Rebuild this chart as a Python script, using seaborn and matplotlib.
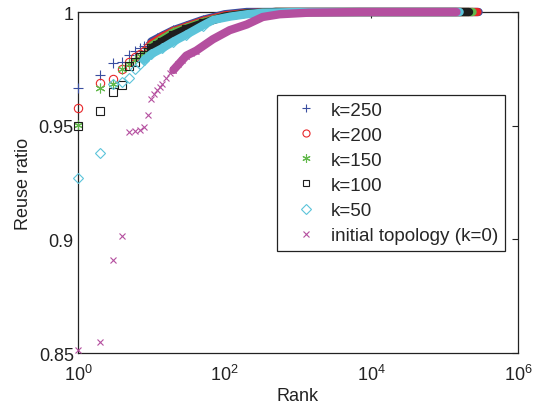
import matplotlib
matplotlib.use('Agg')
import matplotlib.pyplot as plt
import seaborn as sns
from matplotlib.lines import Line2D

sns.set_style('white')
plt.rcParams['font.family'] = ['Liberation Sans', 'DejaVu Sans']
plt.rcParams['mathtext.fontset'] = 'custom'
plt.rcParams['mathtext.rm'] = 'Liberation Sans'
plt.rcParams['mathtext.it'] = 'Liberation Sans:italic'

labels = ['k=250', 'k=200', 'k=150', 'k=100', 'k=50', 'initial topology (k=0)']
colors = ['#3a4ea0', '#e8262a', '#62b94b', '#1e1e1e', '#5cc4da', '#b44f9f']

# individual points at small ranks
rank_k250 = [1, 2, 3, 4, 5, 6, 7, 8, 9, 10, 12, 14]
ratio_k250 = [0.9664, 0.9723, 0.9774, 0.9780, 0.9810, 0.9830, 0.9840, 0.9850, 0.9860, 0.9870, 0.9885, 0.9895]
rank_k200 = [1, 2, 3, 4, 5, 6, 7, 8, 9, 10]
ratio_k200 = [0.9576, 0.9688, 0.9707, 0.9750, 0.9780, 0.9800, 0.9815, 0.9830, 0.9845, 0.9860]
rank_k150 = [1, 2, 3, 4, 5, 6, 7, 8, 9, 10]
ratio_k150 = [0.9503, 0.9664, 0.9683, 0.9750, 0.9770, 0.9790, 0.9805, 0.9820, 0.9835, 0.9850]
rank_k100 = [1, 2, 3, 4, 5, 6, 7, 8, 9, 10, 12, 14]
ratio_k100 = [0.9500, 0.9566, 0.9647, 0.9679, 0.9764, 0.9780, 0.9800, 0.9812, 0.9822, 0.9840, 0.9855, 0.9870]
rank_k50 = [1, 2, 3, 4, 5, 6, 7, 8]
ratio_k50 = [0.9269, 0.9380, 0.9683, 0.9690, 0.9710, 0.9750, 0.9770, 0.9790]
rank_k0 = [1, 2, 3, 4, 5, 6, 7, 8, 9, 10, 11, 12, 13, 14, 16, 18, 20, 23, 26, 30, 35, 40]
ratio_k0 = [0.8515, 0.8547, 0.8910, 0.9016, 0.9474, 0.9477, 0.9480, 0.9496, 0.9548, 0.9617, 0.9640,
            0.9655, 0.9670, 0.9685, 0.9710, 0.9730, 0.9745, 0.9770, 0.9790, 0.9808, 0.9820, 0.9830]

# dense part of each series (read along the band)
band_rank_k250 = [10, 14, 20, 30, 50, 100, 200, 1e3, 1e4, 1e5, 2.9e5]
band_ratio_k250 = [0.987, 0.9895, 0.992, 0.994, 0.9965, 0.999, 1.0, 1.0, 1.0, 1.0, 1.0]
band_rank_k200 = [10, 14, 20, 30, 50, 100, 200, 500, 1e3, 1e4, 1e5, 2.8e5]
band_ratio_k200 = [0.986, 0.989, 0.9915, 0.9935, 0.996, 0.9985, 0.9995, 1.0, 1.0, 1.0, 1.0, 1.0]
band_rank_k150 = [10, 14, 20, 30, 50, 100, 200, 500, 1e3, 1e4, 1e5, 2.4e5]
band_ratio_k150 = [0.985, 0.988, 0.991, 0.993, 0.9955, 0.998, 0.9993, 1.0, 1.0, 1.0, 1.0, 1.0]
band_rank_k100 = [10, 14, 20, 30, 50, 100, 200, 500, 1e3, 1e4, 1e5, 2.15e5]
band_ratio_k100 = [0.984, 0.987, 0.990, 0.9925, 0.995, 0.998, 0.9993, 1.0, 1.0, 1.0, 1.0, 1.0]
band_rank_k50 = [8, 10, 14, 20, 30, 50, 70, 120, 200, 330, 1e3, 1e4, 1e5, 1.6e5]
band_ratio_k50 = [0.979, 0.9815, 0.984, 0.987, 0.990, 0.994, 0.9965, 0.998, 0.999, 0.9997, 1.0, 1.0, 1.0, 1.0]
band_rank_k0 = [20, 30, 41, 69, 117, 200, 330, 560, 1400, 6900, 1e5, 1.45e5]
band_ratio_k0 = [0.9745, 0.9808, 0.983, 0.988, 0.992, 0.9945, 0.9978, 0.999, 0.9997, 1.0, 1.0, 1.0]

points = [(rank_k250, ratio_k250), (rank_k200, ratio_k200), (rank_k150, ratio_k150),
          (rank_k100, ratio_k100), (rank_k50, ratio_k50), (rank_k0, ratio_k0)]
bands = [(band_rank_k250, band_ratio_k250), (band_rank_k200, band_ratio_k200),
         (band_rank_k150, band_ratio_k150), (band_rank_k100, band_ratio_k100),
         (band_rank_k50, band_ratio_k50), (band_rank_k0, band_ratio_k0)]

markers = ['+', 'o', (6, 2, 0), 's', 'D', 'x']
msizes = [7, 6, 7, 5.5, 5.5, 5]

fig = plt.figure(figsize=(5.43, 4.14), dpi=100)
ax = fig.add_axes([78 / 543, 1 - 354 / 414, 440 / 543, 341 / 414])
ax.set_xscale('log')

for i in range(6):
    br, bv = bands[i]
    sns.lineplot(x=br, y=bv, color=colors[i], lw=6, estimator=None, sort=False,
                 ax=ax, zorder=3 + i, clip_on=False, solid_capstyle='round')
    nb = sum(1 for r in br if r <= 50)
    sns.lineplot(x=br[:nb], y=bv[:nb], color=colors[i], lw=0, estimator=None, sort=False,
                 marker=markers[i], ms=msizes[i], mfc='none', mec=colors[i], mew=0.8,
                 ax=ax, zorder=3 + i, clip_on=False)
    pr, pv = points[i]
    sns.lineplot(x=pr, y=pv, color=colors[i], lw=0, estimator=None, sort=False,
                 marker=markers[i], ms=msizes[i], mfc='none', mec=colors[i], mew=0.8,
                 ax=ax, zorder=3 + i, clip_on=False)

ax.set_xlim(1, 1e6)
ax.set_ylim(0.85, 1.0)
ax.set_xticks([1, 1e2, 1e4, 1e6])
ax.set_xticklabels([r'$10^0$', r'$10^2$', r'$10^4$', r'$10^6$'])
ax.minorticks_off()
ax.set_yticks([0.85, 0.9, 0.95, 1.0])
ax.set_yticklabels(['0.85', '0.9', '0.95', '1'])
ax.tick_params(direction='in', length=4, width=0.8, top=True, right=True,
               labelsize=13, colors='#222222', pad=3)
ax.tick_params(axis='x', pad=8)
for s in ax.spines.values():
    s.set_color('#222222')
    s.set_linewidth(0.9)
    s.set_zorder(2)

ax.set_xlabel('Rank', fontsize=13, color='#222222', labelpad=2)
ax.set_ylabel('Reuse ratio', fontsize=13, color='#222222', labelpad=5)

handles = [Line2D([], [], linestyle='none', marker=markers[i], ms=msizes[i] * 0.85,
                  mfc='none', mec=colors[i], mew=0.8) for i in range(6)]
leg = ax.legend(handles, labels, loc='upper right', bbox_to_anchor=(0.970, 0.7566),
                fontsize=13.6, frameon=True, fancybox=False, framealpha=1,
                edgecolor='#222222', borderpad=0.34, labelspacing=0.42,
                handlelength=2.3, handletextpad=0.2, borderaxespad=0)
leg.get_frame().set_linewidth(0.9)
leg.set_zorder(20)

fig.savefig('out.png', dpi=100)
